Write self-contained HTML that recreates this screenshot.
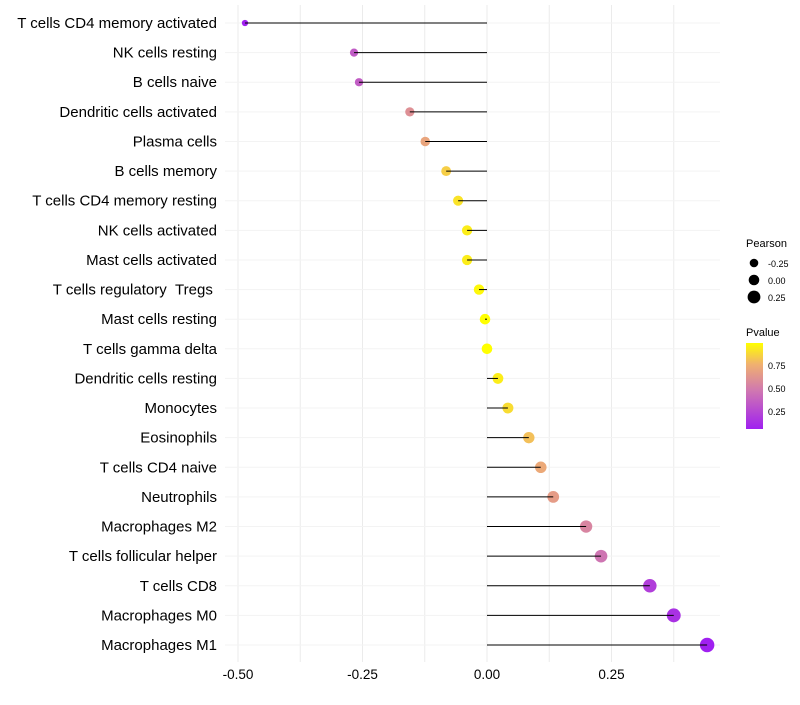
<!DOCTYPE html>
<html><head><meta charset="utf-8"><style>
body{margin:0;background:#fff;font-family:"Liberation Sans",sans-serif}
svg text{font-family:"Liberation Sans",sans-serif}
</style></head><body>
<svg id="chart" width="800" height="700" xmlns="http://www.w3.org/2000/svg">
<defs><linearGradient id="pg" x1="0" y1="1" x2="0" y2="0">
<stop offset="0" stop-color="#a020f0"/><stop offset="0.45" stop-color="#d078b0"/><stop offset="0.75" stop-color="#f0b070"/><stop offset="1" stop-color="#ffff00"/></linearGradient></defs>
<g id="grid"></g><g id="marks"></g><g id="labels"></g><g id="ticks"></g>
<g>
<text x="746" y="247" font-size="11">Pearson</text>
<circle cx="754" cy="263" r="4.3" fill="#000"/><text x="768" y="267" font-size="9">-0.25</text>
<circle cx="754" cy="280" r="5.3" fill="#000"/><text x="768" y="284" font-size="9">0.00</text>
<circle cx="754" cy="297" r="6.4" fill="#000"/><text x="768" y="301" font-size="9">0.25</text>
</g>
<g>
<text x="746" y="336" font-size="11">Pvalue</text>
<rect x="746" y="343" width="17" height="86" fill="url(#pg)"/>
<text x="768" y="369" font-size="9">0.75</text>
<text x="768" y="392" font-size="9">0.50</text>
<text x="768" y="415" font-size="9">0.25</text>
</g>
</svg>
<script>
const categories=["T cells CD4 memory activated","NK cells resting","B cells naive","Dendritic cells activated","Plasma cells","B cells memory","T cells CD4 memory resting","NK cells activated","Mast cells activated","T cells regulatory \u00a0Tregs\u00a0","Mast cells resting","T cells gamma delta","Dendritic cells resting","Monocytes","Eosinophils","T cells CD4 naive","Neutrophils","Macrophages M2","T cells follicular helper","T cells CD8","Macrophages M0","Macrophages M1"];
const pearson=[-0.486,-0.267,-0.257,-0.155,-0.124,-0.082,-0.058,-0.040,-0.040,-0.016,-0.004,0.000,0.022,0.042,0.084,0.108,0.133,0.199,0.229,0.327,0.375,0.442];
const pvalue=[0.02,0.35,0.36,0.6,0.7,0.84,0.9,0.93,0.93,0.96,0.99,1.0,0.93,0.88,0.8,0.72,0.66,0.55,0.47,0.22,0.16,0.05];
const tickValues=[-0.5,-0.25,0,0.25];
const tickLabels=["-0.50","-0.25","0.00","0.25"];
const NS="http://www.w3.org/2000/svg";
const x=v=>487+v*498;
const y=i=>23+i*(622/21);
const r=v=>Math.max(1.3,5.3+v*4.4);
function col(p){
 const st=[[0,[160,32,240]],[0.45,[208,120,176]],[0.75,[240,176,112]],[1,[255,255,0]]];
 const t=Math.min(1,Math.max(0,(p-0.08)/0.9));
 for(let k=1;k<st.length;k++){if(t<=st[k][0]){const a=st[k-1],b=st[k],f=(t-a[0])/(b[0]-a[0]);
 return "rgb("+a[1].map((c,j)=>Math.round(c+(b[1][j]-c)*f)).join(",")+")";}}
 return "rgb(255,255,0)";
}
function mk(tag,attrs,parent){const e=document.createElementNS(NS,tag);for(const k in attrs)e.setAttribute(k,attrs[k]);parent.appendChild(e);return e;}
const grid=document.getElementById('grid'),marks=document.getElementById('marks'),labels=document.getElementById('labels'),ticks=document.getElementById('ticks');
for(let g=-0.5;g<=0.4;g+=0.125){const l=mk('line',{x1:x(g),x2:x(g),y1:5,y2:662,stroke:'#ebebeb','stroke-width':1},grid);

}
categories.forEach((c,i)=>{
 const gl=mk('line',{x1:225,x2:720,y1:y(i),y2:y(i),stroke:'#f3f3f3','stroke-width':1},grid);
 
 
 const ci=mk('circle',{cx:x(pearson[i]),cy:y(i),r:r(pearson[i]),fill:col(pvalue[i])},marks);
 
 
 const ln=mk('line',{x1:x(0),x2:x(pearson[i]),y1:y(i),y2:y(i),stroke:'#000','stroke-width':1},marks);
 
 
 const t=mk('text',{x:217,y:y(i)+5,'text-anchor':'end','font-size':15,fill:'#000'},labels);
 t.textContent=c;
 
 
});
tickValues.forEach((v,k)=>{const t=mk('text',{x:x(v),y:679,'text-anchor':'middle','font-size':13.5,fill:'#000'},ticks);
t.textContent=tickLabels[k];

});
</script>
</body></html>
